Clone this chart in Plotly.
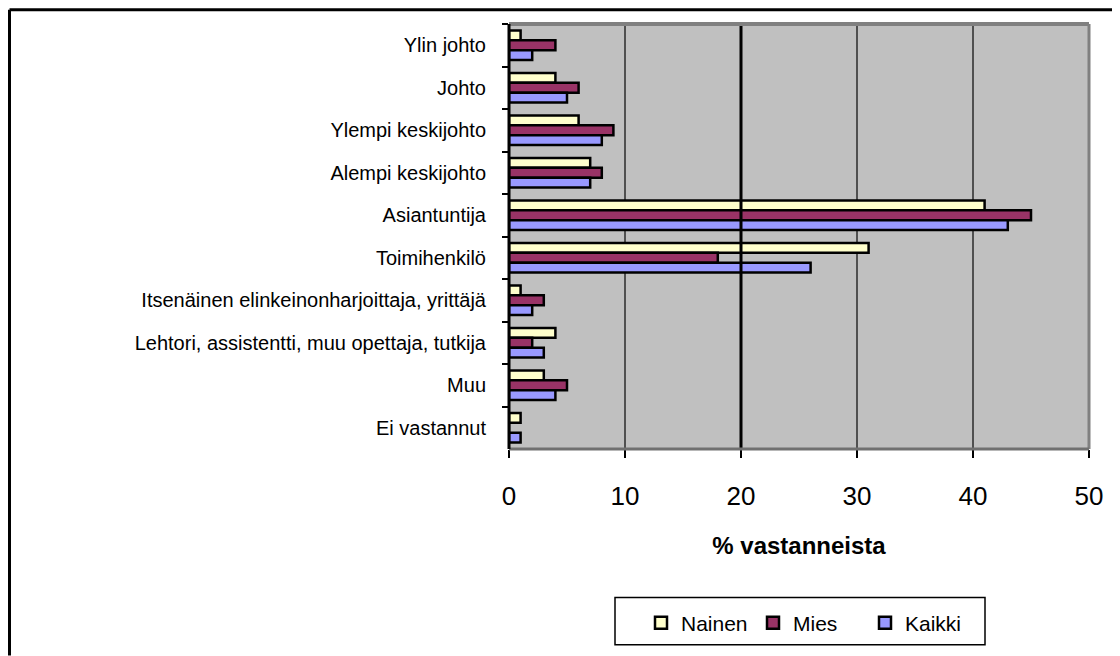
import plotly.graph_objects as go

categories = ["Ylin johto", "Johto", "Ylempi keskijohto", "Alempi keskijohto",
              "Asiantuntija", "Toimihenkilö",
              "Itsenäinen elinkeinonharjoittaja, yrittäjä",
              "Lehtori, assistentti, muu opettaja, tutkija", "Muu", "Ei vastannut"]
nainen = [1, 4, 6, 7, 41, 31, 1, 4, 3, 1]
mies = [4, 6, 9, 8, 45, 18, 3, 2, 5, 0]
kaikki = [2, 5, 8, 7, 43, 26, 2, 3, 4, 1]
x_ticks = [0, 10, 20, 30, 40, 50]

series = [("Nainen", nainen, "#FFFFCC"), ("Mies", mies, "#993366"), ("Kaikki", kaikki, "#9999FF")]

W, H = 1112, 648
L, R, T, B = 501, 31, 16, 200
PW, PH = W - L - R, H - T - B


def px(fx):
    return (fx - L) / PW


def py(fy):
    return (H - B - fy) / PH


fig = go.Figure()
for name, vals, col in series:
    fig.add_trace(go.Bar(
        y=categories, x=vals, name=name, orientation="h",
        marker=dict(color=col, line=dict(color="black", width=2.5)),
    ))

fig.update_layout(
    width=W, height=H,
    margin=dict(l=L, r=R, t=T, b=B),
    paper_bgcolor="white", plot_bgcolor="#C0C0C0",
    barmode="group", bargap=0.305, bargroupgap=0,
    font=dict(family="Liberation Sans, Arial, sans-serif", color="black"),
    showlegend=True,
    legend=dict(orientation="h", x=px(633), xanchor="left", y=py(625), yanchor="middle",
                bgcolor="rgba(0,0,0,0)", borderwidth=0,
                font=dict(size=21), itemwidth=30, traceorder="normal",
                entrywidth=67),
    xaxis=dict(range=[0, 50], tickvals=x_ticks, tickfont=dict(size=26),
               showgrid=True, gridcolor="#505050", gridwidth=2,
               ticks="outside", ticklen=8, tickcolor="black", tickwidth=2,
               showline=False, zeroline=False, fixedrange=True,
               ticklabelstandoff=16,
               title=dict(text="<b>% vastanneista</b>", font=dict(size=24), standoff=26)),
    yaxis=dict(autorange="reversed", tickfont=dict(size=20),
               ticks="outside", tickson="boundaries", ticklen=6, tickcolor="black",
               tickwidth=2, showline=False, showgrid=False, fixedrange=True,
               ticklabelstandoff=22),
)
fig.add_vline(x=20, line=dict(color="black", width=3))
# plot area border: top, right, bottom grey; left black
fig.add_shape(type="line", xref="paper", yref="paper", x0=0, x1=1, y0=1, y1=1,
              line=dict(color="#808080", width=4), layer="above")
fig.add_shape(type="line", xref="paper", yref="paper", x0=1, x1=1, y0=0, y1=1,
              line=dict(color="#808080", width=3), layer="above")
fig.add_shape(type="line", xref="paper", yref="paper", x0=0, x1=1, y0=0, y1=0,
              line=dict(color="#707070", width=3), layer="above")
fig.add_shape(type="line", xref="paper", yref="paper", x0=0, x1=0, y0=0, y1=1,
              line=dict(color="black", width=3), layer="above")
# legend frame
fig.add_shape(type="rect", xref="paper", yref="paper",
              x0=px(607), x1=px(977), y0=py(647), y1=py(599),
              line=dict(color="black", width=1.5), fillcolor="white", layer="below")
# outer chart frame (top and left edges visible)
fig.add_shape(type="line", xref="paper", yref="paper", x0=px(1.5), x1=px(W + 10), y0=py(1.5), y1=py(1.5),
              line=dict(color="black", width=3), layer="above")
fig.add_shape(type="line", xref="paper", yref="paper", x0=px(1.5), x1=px(1.5), y0=py(1.5), y1=py(H + 10),
              line=dict(color="black", width=3), layer="above")

fig.write_html("out.html")
